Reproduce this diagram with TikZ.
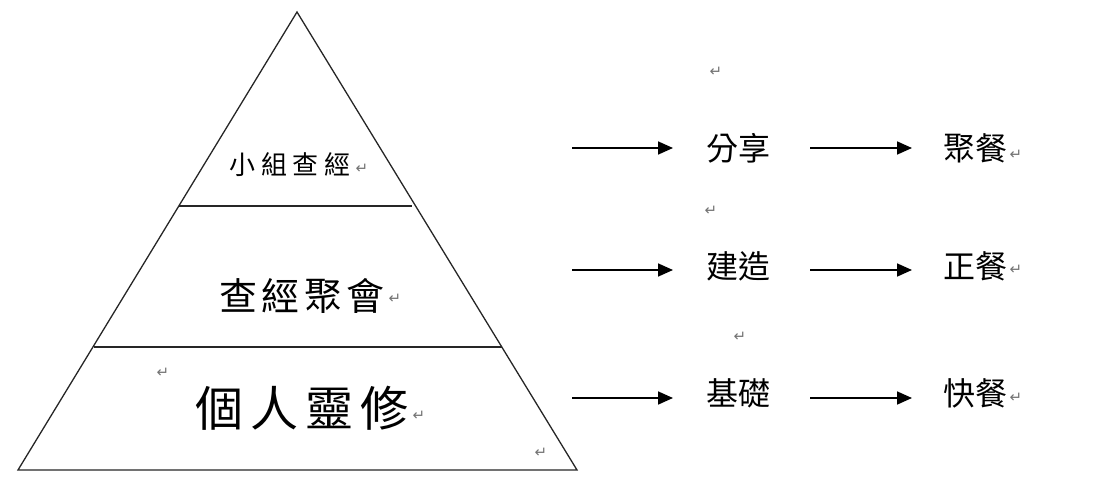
\documentclass[tikz,border=0pt]{standalone}
\usepackage{fontspec}
\newfontfamily\cjk{Noto Sans CJK TC}
\newfontfamily\symfont{DejaVu Sans}
\usetikzlibrary{arrows.meta}
\tikzset{
  edge/.style={line width=1.3pt, draw=black!85},
  flow/.style={line width=1.7pt, -{Triangle[length=15pt,width=13pt]}},
  lvl/.style={inner sep=0pt, font=\cjk},
  word/.style={inner sep=0pt, font=\cjk\fontsize{32}{36}\selectfont},
  ret/.style={inner sep=0pt, text=black!55, font=\symfont\fontsize{15}{16}\selectfont}
}
\begin{document}
\begin{tikzpicture}[x=1pt,y=-1pt]
\useasboundingbox (0,0) rectangle (1097,481);
% pyramid
\coordinate (apex) at (297,12);
\coordinate (bl) at (18,470);
\coordinate (br) at (577,470);
\draw[edge] (apex) -- (bl) -- (br) -- cycle;
\coordinate (l1a) at (179,206);
\coordinate (l1b) at (412,206);
\coordinate (l2a) at (94,347);
\coordinate (l2b) at (502,347);
\draw[edge] (l1a) -- (l1b);
\draw[edge] (l2a) -- (l2b);
% pyramid labels
\node[lvl, font=\cjk\fontsize{26}{30}\selectfont\addfontfeature{LetterSpace=22}] (t1) at (290,165) {小組查經};
\node[lvl, font=\cjk\fontsize{38}{42}\selectfont\addfontfeature{LetterSpace=12}] (t2) at (302,296) {查經聚會};
\node[lvl, font=\cjk\fontsize{48}{52}\selectfont\addfontfeature{LetterSpace=14}] (t3) at (302,408) {個人靈修};
% right column
\node[word] (a1) at (738,148) {分享};
\node[word] (a2) at (738,266) {建造};
\node[word] (a3) at (738,393) {基礎};
\node[word] (b1) at (975,148) {聚餐};
\node[word] (b2) at (975,266) {正餐};
\node[word] (b3) at (975,393) {快餐};
\coordinate (s1) at (572,148);
\coordinate (s2) at (572,270);
\coordinate (s3) at (572,398);
\draw[flow] (s1) -- (673,148);
\draw[flow] (s2) -- (673,270);
\draw[flow] (s3) -- (673,398);
\draw[flow] (810,148) -- (912,148);
\draw[flow] (810,270) -- (912,270);
\draw[flow] (810,398) -- (912,398);
% paragraph marks
\node[ret] at (716,72) {↵};
\node[ret] at (711,211) {↵};
\node[ret] at (740,337) {↵};
\node[ret] at (1016,155) {↵};
\node[ret] at (1016,270) {↵};
\node[ret] at (1016,398) {↵};
\node[ret] at (362,169) {↵};
\node[ret] at (395,299) {↵};
\node[ret] at (419,416) {↵};
\node[ret] at (163,373) {↵};
\node[ret] at (541,453) {↵};
\end{tikzpicture}
\end{document}
